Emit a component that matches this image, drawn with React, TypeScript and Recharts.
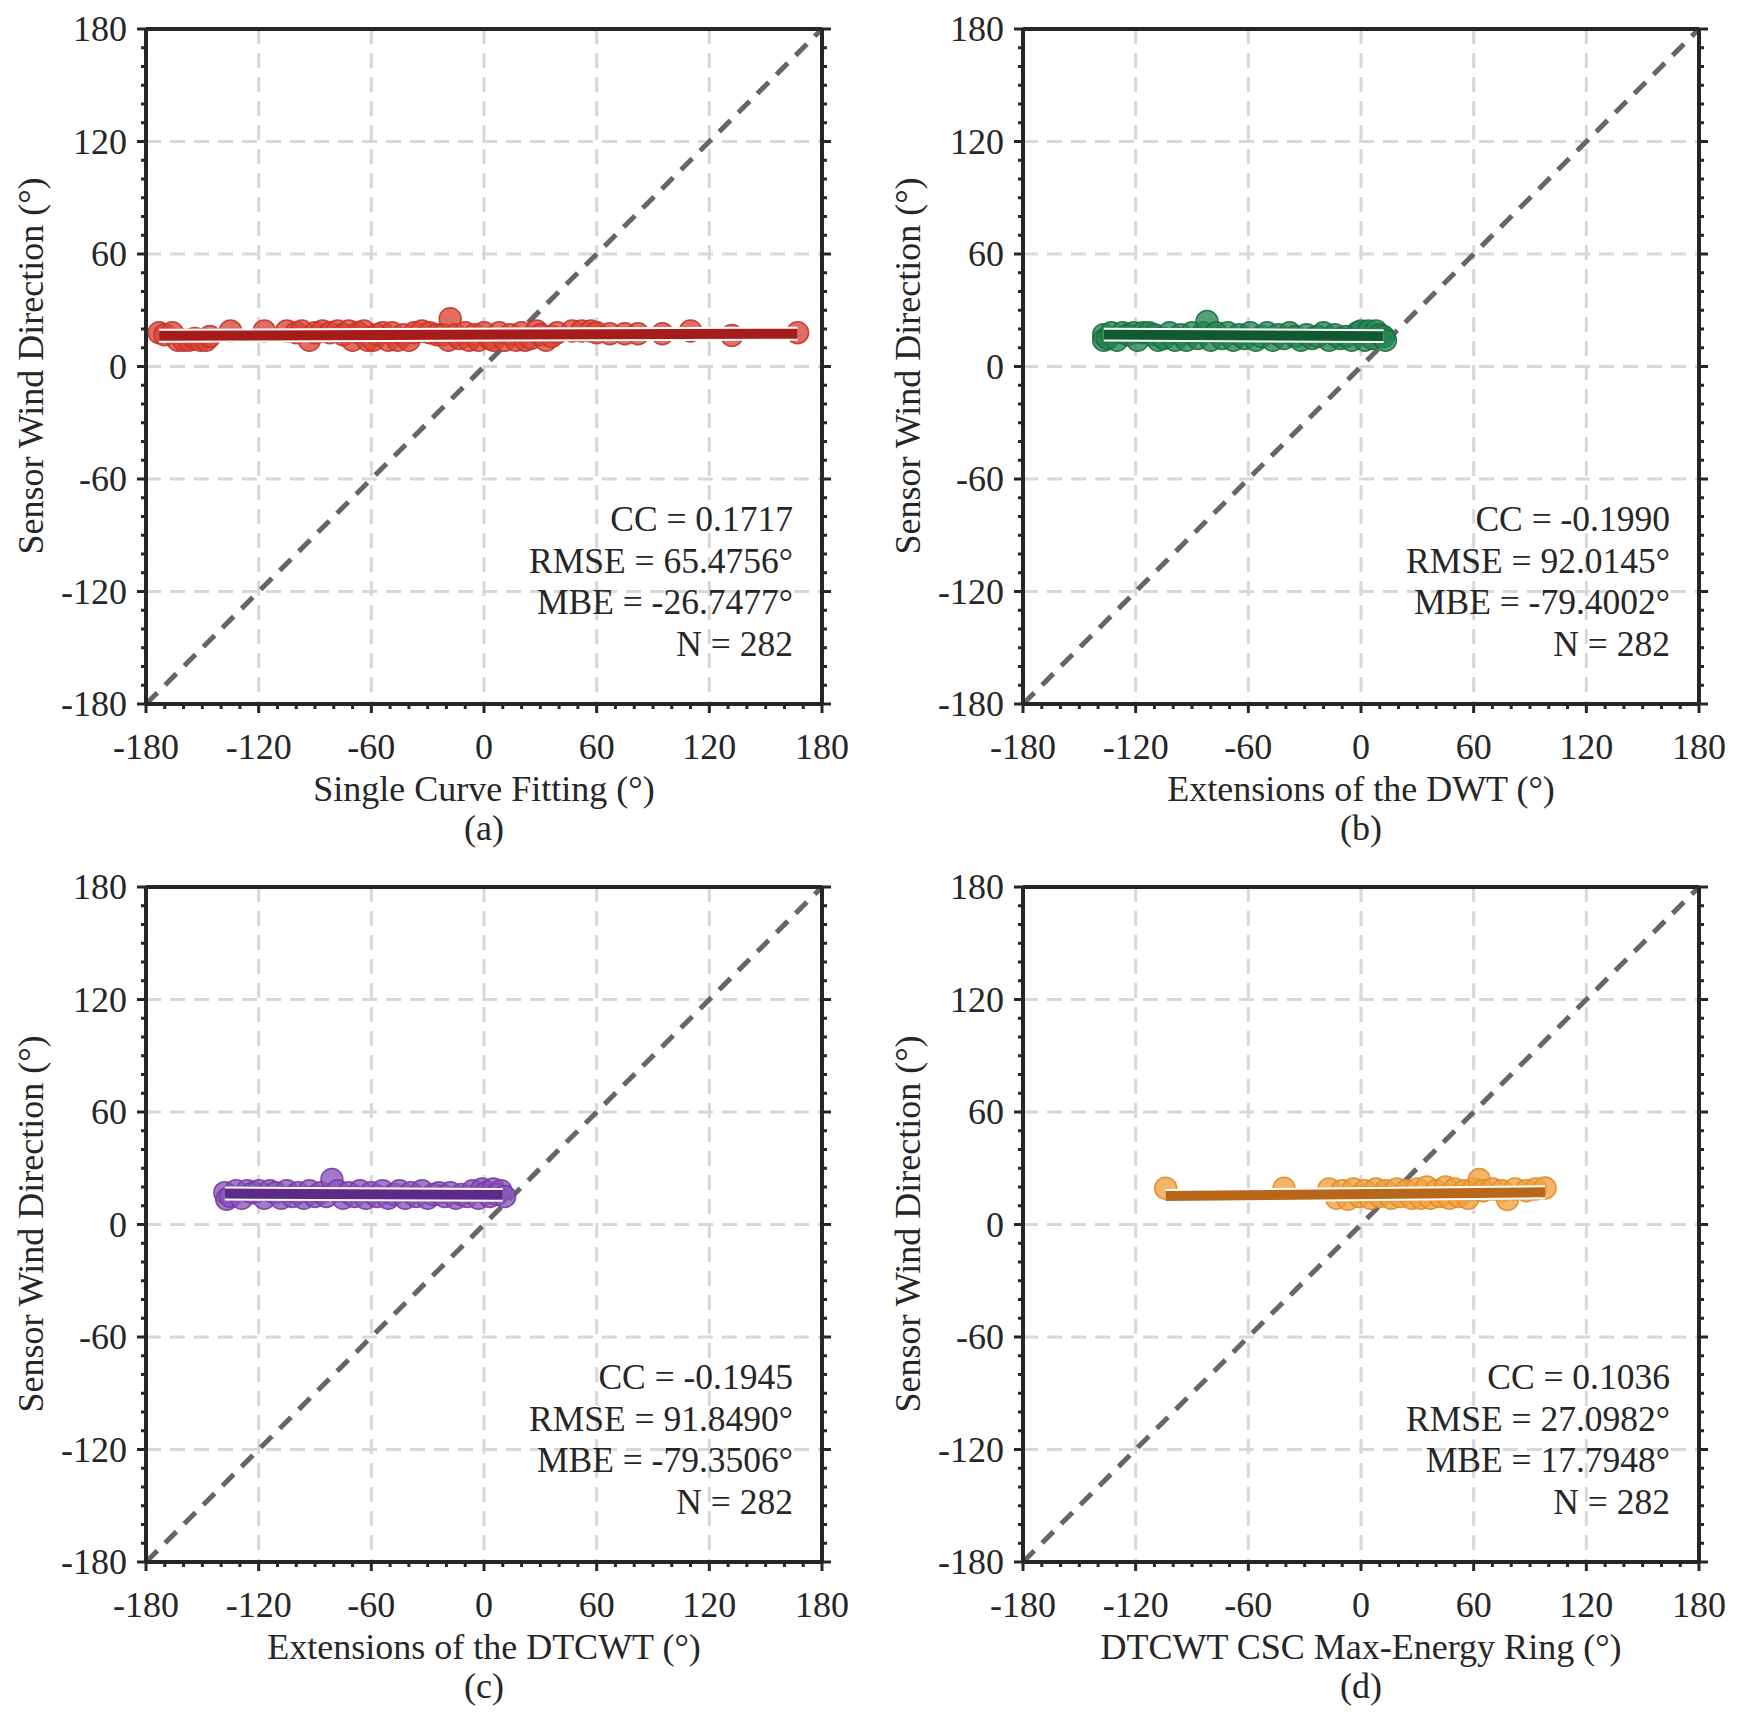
import React from "react";
import { ScatterChart, Scatter, XAxis, YAxis, CartesianGrid, ReferenceLine } from "recharts";

// axis ticks every 10 degrees, labels/grid every 60
const axisTicks = [-180, -170, -160, -150, -140, -130, -120, -110, -100, -90, -80, -70, -60, -50, -40, -30, -20, -10, 0,
  10, 20, 30, 40, 50, 60, 70, 80, 90, 100, 110, 120, 130, 140, 150, 160, 170, 180];
const gridTicks = [-120, -60, 0, 60, 120];
const diagonal = [-180, 180];

// (a) Single Curve Fitting
const scfX = [-173, -170, -166, -163, -160, -157, -154, -151, -148, -146, -135, -117, -105, -100, -97, -93, -90, -86, -82, -78,
  -75, -72, -70, -67, -64, -62, -59, -57, -54, -51, -49, -46, -43, -40, -37, -33, -29, -25, -22, -19,
  -18, -15, -13, -10, -8, -5, -3, 0, 3, 5, 8, 11, 14, 17, 20, 22, 25, 28, 30, 33,
  36, 39, 47, 52, 57, 60, 67, 75, 82, 95, 110, 132, 167];
const scfY = [18, 17, 18, 14, 14, 14, 15, 14, 14, 16, 19, 19, 19, 18, 19, 14, 18, 19, 18, 19,
  17, 19, 14, 18, 19, 14, 14, 17, 18, 14, 18, 14, 17, 14, 18, 19, 18, 17, 17, 14,
  25.5, 17, 15, 18, 14, 17, 14, 18, 15, 14, 18, 14, 17, 14, 18, 14, 15, 19, 17, 14,
  16, 18, 19, 19, 19, 18, 17.5, 17.5, 17.5, 17.5, 19, 16.6, 18];
const scfFitX = [-173, 167];
const scfFitY = [16.4, 17.5];

// (b) Extensions of the DWT
const dwtX = [-137, -137, -135, -133, -130, -127, -124, -121, -119, -116, -113, -110, -108, -105, -102, -99, -96, -93, -90, -87,
  -84, -82, -80, -77, -74, -71, -68, -65, -62, -59, -56, -53, -50, -47, -44, -41, -38, -35, -32, -29,
  -26, -23, -20, -17, -14, -11, -8, -5, -2, 0, 2, 4, 6, 8, 10, 12, 13];
const dwtY = [17, 14, 15, 18, 14, 18, 17, 18, 14, 18, 18, 17, 14, 15, 18, 14, 17, 14, 18, 15,
  18, 24, 14, 18, 15, 18, 14, 17, 15, 18, 14, 16, 18, 14, 17, 15, 18, 16, 14, 17,
  15, 16, 18, 14, 17, 15, 16, 14, 18, 19, 14, 19, 15, 19, 17, 16, 14];
const dwtFitX = [-137, 12];
const dwtFitY = [17.0, 16.2];

// (c) Extensions of the DTCWT
const dtcwtX = [-138, -137, -135, -132, -129, -126, -123, -120, -117, -114, -111, -108, -105, -102, -99, -96, -93, -90, -87, -84,
  -81, -78, -75, -72, -69, -66, -63, -60, -57, -54, -51, -48, -45, -42, -39, -36, -33, -30, -27, -24,
  -21, -18, -15, -12, -9, -6, -3, -1, 1, 3, 5, 7, 9, 11];
const dtcwtY = [17, 13.5, 15, 18, 14, 18, 17, 18, 14, 18, 17, 14, 18, 15, 17, 14, 18, 15, 17, 15,
  24, 18, 14, 17, 15, 18, 14, 17, 15, 18, 14, 16, 18, 14, 17, 15, 18, 14, 16, 17,
  15, 17, 14, 16, 15, 18, 14, 19, 17, 15, 19, 16, 18, 15];
const dtcwtFitX = [-138, 10];
const dtcwtFitY = [16.5, 15.8];

// (d) DTCWT CSC Max-Energy Ring
const cscX = [-104, -41, -17, -13, -10, -7, -4, -1, 2, 5, 8, 10, 13, 16, 19, 21, 24, 27, 30, 32,
  35, 37, 40, 42, 45, 47, 50, 52, 55, 57, 60, 63, 65, 70, 75, 78, 82, 88, 93, 98];
const cscY = [19.3, 19.3, 19, 14, 18, 13.5, 19, 15, 18, 14, 19, 15, 18, 14, 19, 15, 18, 14, 19, 14,
  20, 14, 18, 15, 20, 14, 19, 15, 18, 14, 19, 24, 18, 19, 18, 13.3, 19, 18, 19, 19.5];
const cscFitX = [-104, 98];
const cscFitY = [15.2, 17.2];

const FONT = '"Liberation Serif", "Times New Roman", serif';
const INK = "#262626";
const MAJOR = 9;
const MINOR = 5;

const toPoints = (xs: number[], ys: number[]) => xs.map((x, i) => ({ x, y: ys[i] }));

function AxisTick({ x, y, payload, side }: any) {
  const v = payload.value;
  const major = v % 60 === 0;
  const len = major ? MAJOR : MINOR;
  let line = null;
  let label = null;
  if (side === "bottom") {
    line = <line x1={x} y1={y} x2={x} y2={y + len} stroke={INK} strokeWidth={3} />;
    if (major) label = <text x={x} y={y + 55} textAnchor="middle" fontSize={36} fontFamily={FONT} fill={INK}>{v}</text>;
  } else if (side === "left") {
    line = <line x1={x} y1={y} x2={x - len} y2={y} stroke={INK} strokeWidth={3} />;
    if (major) label = <text x={x - 19} y={y + 12} textAnchor="end" fontSize={36} fontFamily={FONT} fill={INK}>{v}</text>;
  } else if (side === "top") {
    line = <line x1={x} y1={y} x2={x} y2={y - len} stroke={INK} strokeWidth={3} />;
  } else {
    line = <line x1={x} y1={y} x2={x + len} y2={y} stroke={INK} strokeWidth={3} />;
  }
  return <g>{line}{label}</g>;
}

const axisCommon = {
  type: "number" as const,
  domain: [-180, 180],
  ticks: axisTicks,
  interval: 0,
  tickLine: false,
  tickSize: 0,
  tickMargin: 0,
  allowDataOverflow: true,
  axisLine: { stroke: INK, strokeWidth: 4 },
};

type PanelProps = {
  left: number;
  top: number;
  xLabel: string;
  letter: string;
  stats: string[];
  xs: number[];
  ys: number[];
  fitX: number[];
  fitY: number[];
  fill: string;
  edge: string;
  lineColor: string;
};

function Panel({ left, top, xLabel, letter, stats, xs, ys, fitX, fitY, fill, edge, lineColor }: PanelProps) {
  const points = toPoints(xs, ys);
  const fit = toPoints(fitX, fitY);
  const txt: React.CSSProperties = { position: "absolute", fontFamily: FONT, color: INK, whiteSpace: "nowrap" };
  return (
    <div style={{ position: "absolute", left, top, width: 870, height: 860 }}>
      <ScatterChart width={870} height={860} margin={{ top: 28, right: 47, bottom: 155, left: 145 }}>
        <CartesianGrid horizontalValues={gridTicks} verticalValues={gridTicks} stroke="#d8d8d8"
          strokeWidth={3} strokeDasharray="15 9" />
        <XAxis dataKey="x" orientation="bottom" height={1} {...axisCommon}
          tick={(p: any) => <AxisTick {...p} side="bottom" />} />
        <YAxis dataKey="y" orientation="left" width={1} {...axisCommon}
          tick={(p: any) => <AxisTick {...p} side="left" />} />
        <XAxis xAxisId="top" orientation="top" height={1} {...axisCommon}
          tick={(p: any) => <AxisTick {...p} side="top" />} />
        <YAxis yAxisId="right" orientation="right" width={1} {...axisCommon}
          tick={(p: any) => <AxisTick {...p} side="right" />} />
        <Scatter data={points} isAnimationActive={false}
          shape={(p: any) => (
            <circle cx={p.cx} cy={p.cy} r={11} fill={fill} fillOpacity={0.78}
              stroke={edge} strokeOpacity={0.9} strokeWidth={1.5} />
          )} />
        <ReferenceLine segment={[{ x: diagonal[0], y: diagonal[0] }, { x: diagonal[1], y: diagonal[1] }]}
          stroke="#666666" strokeWidth={5} strokeDasharray="16 11" ifOverflow="visible" />
        <Scatter data={fit} isAnimationActive={false} line={{ stroke: "#ffffff", strokeWidth: 14 }}
          lineType="joint" shape={() => <g />} />
        <Scatter data={fit} isAnimationActive={false} line={{ stroke: lineColor, strokeWidth: 10 }}
          lineType="joint" shape={() => <g />} />
      </ScatterChart>
      <div style={{ ...txt, left: 31, top: 366, fontSize: 36, transform: "translate(-50%, -50%) rotate(-90deg)" }}>
        Sensor Wind Direction (°)
      </div>
      <div style={{ ...txt, left: 484, top: 789, fontSize: 36, transform: "translate(-50%, -50%)" }}>{xLabel}</div>
      <div style={{ ...txt, left: 484, top: 828, fontSize: 36, transform: "translate(-50%, -50%)" }}>{letter}</div>
      <div style={{ ...txt, left: 393, top: 499, width: 400, textAlign: "right", fontSize: 35.5, lineHeight: "41.5px" }}>
        {stats.map((s) => <div key={s}>{s}</div>)}
      </div>
    </div>
  );
}

export default function App() {
  return (
    <div style={{ position: "relative", width: 1740, height: 1723, background: "#fff" }}>
      <style>{"body{margin:0;background:#fff}"}</style>
      <Panel left={0} top={0} xLabel="Single Curve Fitting (°)" letter="(a)"
        stats={["CC = 0.1717", "RMSE = 65.4756°", "MBE = -26.7477°", "N = 282"]}
        xs={scfX} ys={scfY} fitX={scfFitX} fitY={scfFitY}
        fill="#da4436" edge="#c2352a" lineColor="#a61c1b" />
      <Panel left={877} top={0} xLabel="Extensions of the DWT (°)" letter="(b)"
        stats={["CC = -0.1990", "RMSE = 92.0145°", "MBE = -79.4002°", "N = 282"]}
        xs={dwtX} ys={dwtY} fitX={dwtFitX} fitY={dwtFitY}
        fill="#24854f" edge="#1b6e41" lineColor="#0f5a2f" />
      <Panel left={0} top={858} xLabel="Extensions of the DTCWT (°)" letter="(c)"
        stats={["CC = -0.1945", "RMSE = 91.8490°", "MBE = -79.3506°", "N = 282"]}
        xs={dtcwtX} ys={dtcwtY} fitX={dtcwtFitX} fitY={dtcwtFitY}
        fill="#8b53bb" edge="#723d9f" lineColor="#5d2a87" />
      <Panel left={877} top={858} xLabel="DTCWT CSC Max-Energy Ring (°)" letter="(d)"
        stats={["CC = 0.1036", "RMSE = 27.0982°", "MBE = 17.7948°", "N = 282"]}
        xs={cscX} ys={cscY} fitX={cscFitX} fitY={cscFitY}
        fill="#f0a03c" edge="#e08b27" lineColor="#b8661a" />
    </div>
  );
}
